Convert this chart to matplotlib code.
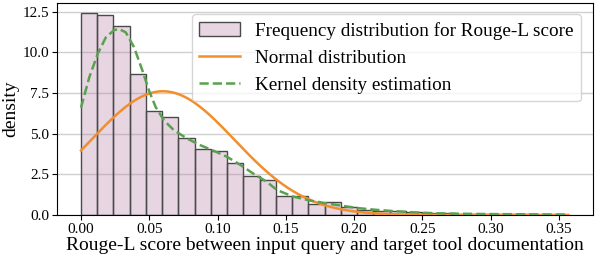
import numpy as np
import matplotlib
matplotlib.use("Agg")
import matplotlib.pyplot as plt
from matplotlib.patches import Patch
from matplotlib.lines import Line2D

# histogram (density) of Rouge-L scores, 30 bins between 0 and the max score
score_min = 0.0
score_max = 0.357
hist_density = [
    12.42, 12.28, 11.62, 8.69, 6.38, 6.04, 4.71, 4.02, 3.92, 3.17,
    2.38, 2.12, 1.18, 1.14, 0.67, 0.77, 0.46, 0.32, 0.24, 0.22,
    0.15, 0.11, 0.09, 0.07, 0.05, 0.04, 0.04, 0.03, 0.02, 0.02,
]

# fitted normal distribution
norm_mu = 0.060
norm_sigma = 0.0525

# kernel density estimate
kde_x = [0.0, 0.0061, 0.0122, 0.0182, 0.0243, 0.0280, 0.0328, 0.0389, 0.0450,
         0.0498, 0.0547, 0.0608, 0.0681, 0.0778, 0.0875, 0.0973, 0.107, 0.117,
         0.126, 0.136, 0.1435, 0.1556, 0.1678, 0.180, 0.192, 0.204, 0.2164,
         0.2285, 0.243, 0.26, 0.28, 0.30, 0.32, 0.34, 0.357]
kde_y = [6.59, 8.46, 9.89, 10.91, 11.36, 11.42, 11.22, 10.30, 8.87,
         7.65, 6.63, 5.81, 5.20, 4.69, 4.28, 3.94, 3.57, 3.06,
         2.55, 2.04, 1.53, 1.12, 0.88, 0.71, 0.55, 0.41, 0.31,
         0.24, 0.16, 0.10, 0.07, 0.05, 0.04, 0.03, 0.02]

plt.rcParams["font.family"] = ["Liberation Serif", "DejaVu Serif"]

fig = plt.figure(figsize=(5.96, 2.58), dpi=100)
ax = fig.add_axes([0.095, 0.167, 0.8995, 0.8225])

edges = np.linspace(score_min, score_max, len(hist_density) + 1)
width = edges[1] - edges[0]
bar_face = (0.69, 0.48, 0.63, 0.3)
ax.bar(edges[:-1], hist_density, width=width, align="edge",
       facecolor=bar_face, edgecolor="#4a4a4a", linewidth=1.0, zorder=2)

xs = np.linspace(score_min, score_max, 300)
pdf = np.exp(-0.5 * ((xs - norm_mu) / norm_sigma) ** 2) / (norm_sigma * np.sqrt(2 * np.pi))
ax.plot(xs, pdf, color="#f28e2b", lw=1.8, zorder=3)
ax.plot(kde_x, kde_y, color="#59a14f", lw=1.8, ls="--", zorder=4)

ax.set_xticks(np.arange(0, 0.351, 0.05))
ax.set_yticks(np.arange(0, 12.6, 2.5))
ax.xaxis.set_major_formatter(matplotlib.ticker.FormatStrFormatter("%.2f"))
ax.yaxis.set_major_formatter(matplotlib.ticker.FormatStrFormatter("%.1f"))
ax.tick_params(labelsize=11, pad=2)
ax.grid(axis="y", color="#d0d0d0", lw=1.0, zorder=0)
ax.set_axisbelow(True)
ax.margins(x=0.05)
ax.set_ylim(0, max(hist_density) * 1.05)

ax.set_xlabel("Rouge-L score between input query and target tool documentation", fontsize=14, labelpad=1)
ax.set_ylabel("density", fontsize=14, labelpad=2)

handles = [
    Patch(facecolor=bar_face, edgecolor="#4a4a4a"),
    Line2D([], [], color="#f28e2b", lw=1.8),
    Line2D([], [], color="#59a14f", lw=1.8, ls="--"),
]
labels = ["Frequency distribution for Rouge-L score", "Normal distribution",
          "Kernel density estimation"]
ax.legend(handles, labels, loc="upper right", fontsize=13.8,
          borderaxespad=0.6, handletextpad=0.8, handlelength=2.1)

fig.savefig("out.png", dpi=100)
